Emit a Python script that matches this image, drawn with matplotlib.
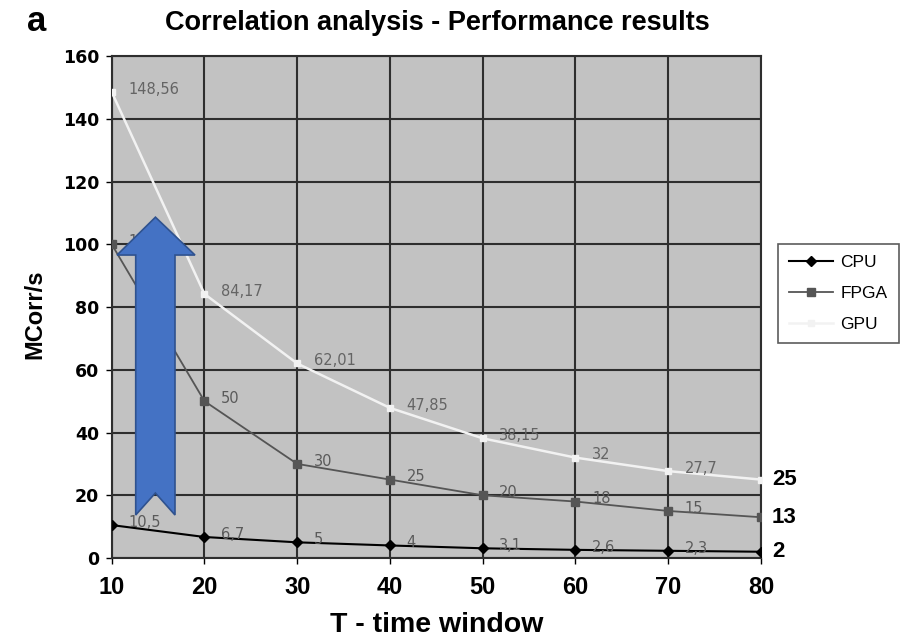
import matplotlib
matplotlib.use("Agg")
import matplotlib.pyplot as plt
from matplotlib.patches import Polygon

plt.rcParams['font.family'] = ['Liberation Sans', 'DejaVu Sans']

# Throughput (MCorr/s) against correlation time window
window = [10, 20, 30, 40, 50, 60, 70, 80]
cpu = [10.5, 6.7, 5, 4, 3.1, 2.6, 2.3, 2]
fpga = [100, 50, 30, 25, 20, 18, 15, 13]
gpu = [148.56, 84.17, 62.01, 47.85, 38.15, 32, 27.7, 25]
series_names = ["CPU", "FPGA", "GPU"]
y_ticks = [0, 20, 40, 60, 80, 100, 120, 140, 160]


def fmt(v):
    return f"{v:g}".replace(".", ",")


W, H = 917, 637
fig = plt.figure(figsize=(W / 100, H / 100), dpi=100)
ax = fig.add_axes([0.1218, 0.124, 0.708, 0.788])
ax.set_facecolor("#c2c2c2")

styles = [
    dict(color="#000000", marker="D", markersize=5.5, lw=1.5, zorder=5),
    dict(color="#555555", marker="s", markersize=5.5, lw=1.3, zorder=4),
    dict(color="#f2f2f2", marker="s", markersize=4, lw=1.8, zorder=3),
]
label_colors = ["#5a5a5a", "#5a5a5a", "#646464"]

for name, vals, st, lc in zip(series_names, [cpu, fpga, gpu], styles, label_colors):
    ax.plot(window, vals, label=name, **st)
    for x, v in zip(window[:-1], vals[:-1]):
        ax.annotate(fmt(v), (x, v), xytext=(12, 2), textcoords="offset points",
                    ha="left", va="center", fontsize=10.5, color=lc,
                    family="DejaVu Sans", zorder=6)
    ax.annotate(fmt(vals[-1]), (window[-1], vals[-1]), xytext=(8, 0),
                textcoords="offset points", ha="left", va="center",
                fontsize=16, fontweight="bold", color="black",
                annotation_clip=False)

ax.set_xlim(10, 80)
ax.set_ylim(0, 160)
ax.set_xticks(window)
ax.set_yticks(y_ticks)
ax.grid(True, color="#2e2e2e", lw=1.5)
ax.set_axisbelow(True)
for s in ax.spines.values():
    s.set_color("#2e2e2e")
    s.set_linewidth(1.5)
ax.tick_params(axis="y", labelsize=12.5, length=4, width=1, pad=5)
ax.tick_params(axis="x", labelsize=17, length=4, width=1, pad=9)
for t in ax.get_yticklabels():
    t.set_fontweight("bold")
    t.set_family("DejaVu Sans")
for t in ax.get_xticklabels():
    t.set_fontweight("bold")

fig.text(437 / W, 1 - 632 / H, "T - time window", ha="center",
         va="baseline", fontsize=20.5, fontweight="bold")
fig.text(35 / W, 1 - 314 / H, "MCorr/s", ha="center", va="center",
         rotation=90, fontsize=17, fontweight="bold")
fig.text(437 / W, 1 - 30 / H, "Correlation analysis - Performance results",
         ha="center", va="baseline", fontsize=19.5, fontweight="bold")
fig.text(37 / W, 1 - 31 / H, "a", ha="center", va="baseline", fontsize=25,
         fontweight="bold")

leg = ax.legend(loc="upper left", bbox_to_anchor=(778 / W, 1 - 244 / H),
                bbox_transform=fig.transFigure, frameon=True, fancybox=False,
                edgecolor="#333333", facecolor="white", fontsize=12.5,
                handlelength=2.5, borderpad=0.65, labelspacing=0.9,
                handletextpad=0.45, borderaxespad=0)
leg.get_frame().set_linewidth(1.2)

# Upward block arrow with notched tail
arrow_pts = [(0.0674, 0.679), (0.1283, 0.6036), (0.0975, 0.6036),
             (0.0975, 0.0857), (0.0673, 0.1295), (0.037, 0.0857),
             (0.037, 0.6036), (0.0082, 0.6036)]
ax.add_patch(Polygon(arrow_pts, closed=True, transform=ax.transAxes,
                     facecolor="#4472C4", edgecolor="#2F528F", lw=1.2,
                     zorder=10, clip_on=False))

fig.savefig("out.png", dpi=100, facecolor="white")
